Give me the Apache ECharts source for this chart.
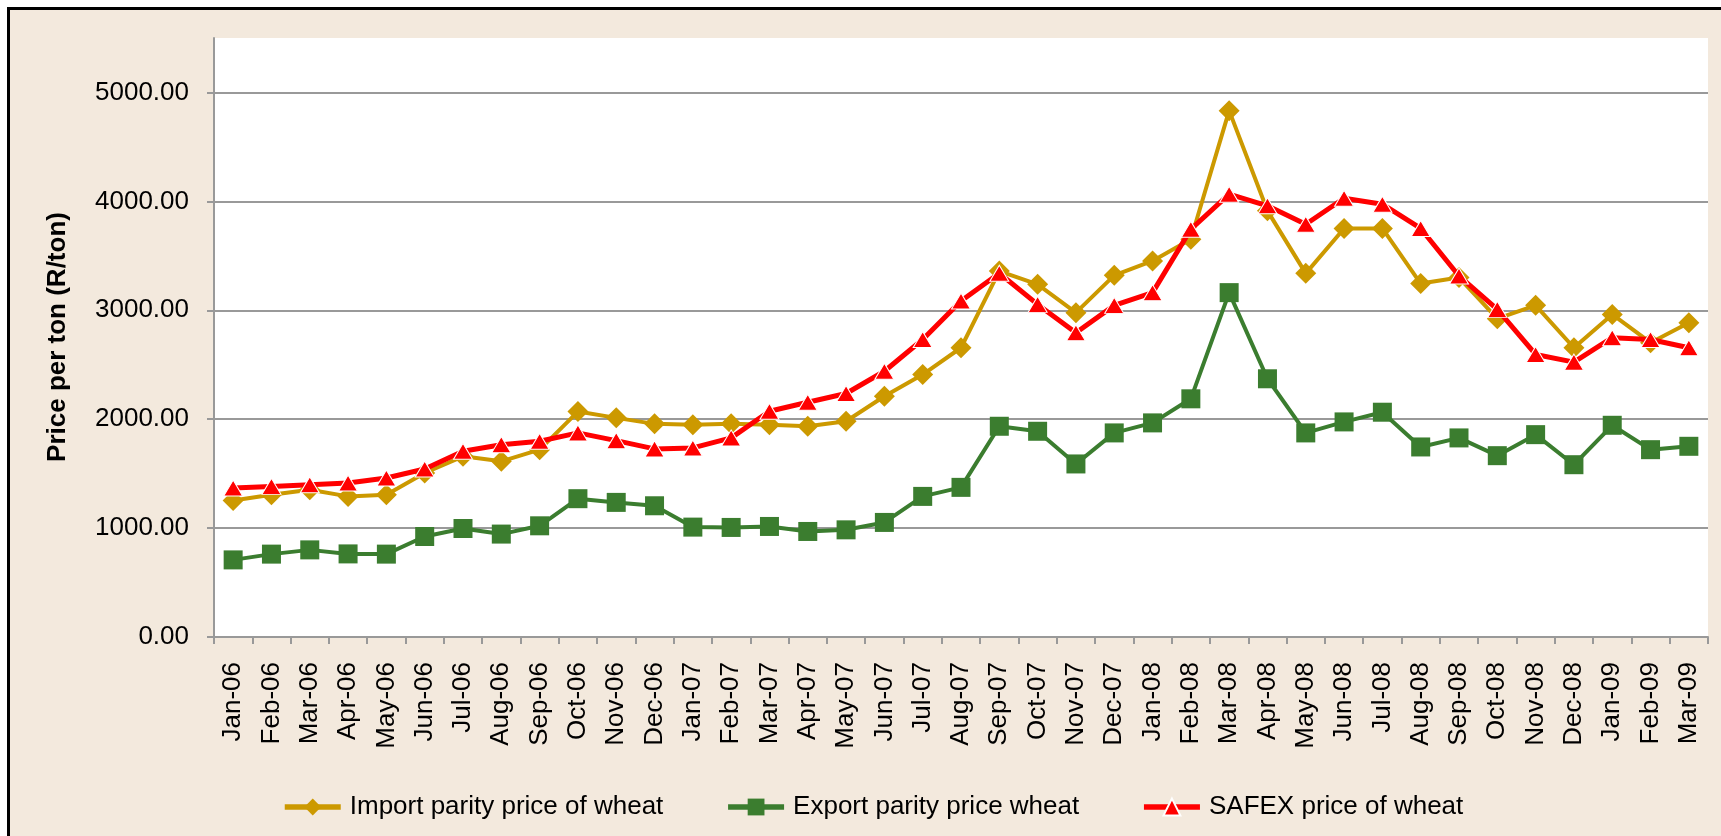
<!DOCTYPE html>
<html><head><meta charset="utf-8">
<script src="https://cdn.jsdelivr.net/npm/echarts@6/dist/echarts.min.js"></script>
<style>html,body{margin:0;padding:0;background:#fff;}#c{width:1721px;height:836px;}</style>
</head><body><div id="c"></div>
<script>
const categories = ["Jan-06","Feb-06","Mar-06","Apr-06","May-06","Jun-06","Jul-06","Aug-06","Sep-06","Oct-06","Nov-06","Dec-06",
  "Jan-07","Feb-07","Mar-07","Apr-07","May-07","Jun-07","Jul-07","Aug-07","Sep-07","Oct-07","Nov-07","Dec-07",
  "Jan-08","Feb-08","Mar-08","Apr-08","May-08","Jun-08","Jul-08","Aug-08","Sep-08","Oct-08","Nov-08","Dec-08",
  "Jan-09","Feb-09","Mar-09"];
const importParity = [1254,1306,1352,1291,1306,1506,1659,1613,1720,2070,2012,1957,
  1950,1957,1950,1935,1981,2211,2410,2656,3360,3238,2978,3321,
  3453,3652,4833,3913,3339,3751,3751,3245,3300,2923,3045,2656,
  2962,2702,2886];
const exportParity = [708,761,800,763,761,923,996,945,1021,1270,1236,1205,
  1009,1006,1015,969,984,1052,1291,1374,1935,1889,1589,1874,
  1966,2187,3162,2371,1874,1975,2064,1745,1828,1665,1858,1582,
  1944,1720,1751];
const safex = [1368,1383,1398,1414,1460,1543,1705,1766,1797,1874,1803,1727,
  1736,1828,2073,2156,2236,2440,2732,3085,3340,3054,2794,3045,
  3162,3744,4066,3959,3790,4029,3974,3751,3315,3008,2594,2524,
  2748,2732,2656];
const seriesNames = ["Import parity price of wheat","Export parity price wheat","SAFEX price of wheat"];
const yAxisTitle = "Price per ton (R/ton)";
const yMin = 0, yMax = 5500, yInterval = 1000;

const FONT = "'Liberation Sans', Arial, sans-serif";
const chart = echarts.init(document.getElementById('c'), null, {renderer:'canvas'});
chart.setOption({
  animation: false,
  backgroundColor: '#F3E9DD',
  graphic: [
    {type:'rect', shape:{x:0,y:0,width:1721,height:7}, style:{fill:'#fff'}, silent:true},
    {type:'rect', shape:{x:0,y:0,width:7,height:836}, style:{fill:'#fff'}, silent:true},
    {type:'line', shape:{x1:8.5,y1:7,x2:8.5,y2:836}, style:{stroke:'#000', lineWidth:3}, silent:true},
    {type:'line', shape:{x1:7,y1:8.5,x2:1721,y2:8.5}, style:{stroke:'#000', lineWidth:3}, silent:true},
    {type:'text', x:58, y:337, rotation:Math.PI/2,
     style:{text:yAxisTitle, font:"bold 26px " + FONT, fill:'#000', textAlign:'center', textVerticalAlign:'middle'}}
  ],
  grid: {left:214, right:13, top:38, bottom:199, show:true, backgroundColor:'#fff', borderWidth:0, containLabel:false},
  legend: {
    left: 277, top: 789, itemWidth: 56, itemHeight: 21, itemGap: 62,
    lineStyle: {width: 5.5},
    textStyle: {fontFamily: FONT, fontSize: 26, color:'#000', padding:[0,0,0,4]},
    data: seriesNames
  },
  xAxis: {
    type:'category', data: categories, boundaryGap:true,
    axisLine:{lineStyle:{color:'#999', width:2}},
    axisTick:{show:true, length:7, lineStyle:{color:'#999', width:2}},
    axisLabel:{rotate:90, margin:25, interval:0, fontFamily:FONT, fontSize:26, color:'#000'}
  },
  yAxis: {
    type:'value', min:yMin, max:yMax, interval:yInterval,
    axisLine:{show:true, lineStyle:{color:'#999', width:2}},
    axisTick:{show:true, length:7, lineStyle:{color:'#999', width:2}},
    axisLabel:{margin:25, fontFamily:FONT, fontSize:26, color:'#000', showMaxLabel:false,
      formatter: v => v.toFixed(2)},
    splitLine:{show:true, showMaxLine:false, lineStyle:{color:'#999', width:2}}
  },
  series: [
    {name: seriesNames[0], type:'line', data: importParity, symbol:'diamond', symbolSize:[21,21],
     lineStyle:{color:'#CC9900', width:4}, itemStyle:{color:'#CC9900'}, z:2},
    {name: seriesNames[1], type:'line', data: exportParity, symbol:'rect', symbolSize:19,
     lineStyle:{color:'#3B7D2F', width:4}, itemStyle:{color:'#3B7D2F'}, z:3},
    {name: seriesNames[2], type:'line', data: safex, symbol:'triangle', symbolSize:[19,16],
     lineStyle:{color:'#FF0000', width:5}, itemStyle:{color:'#FF0000', borderColor:'#fff', borderWidth:1}, z:4}
  ]
});
</script></body></html>
